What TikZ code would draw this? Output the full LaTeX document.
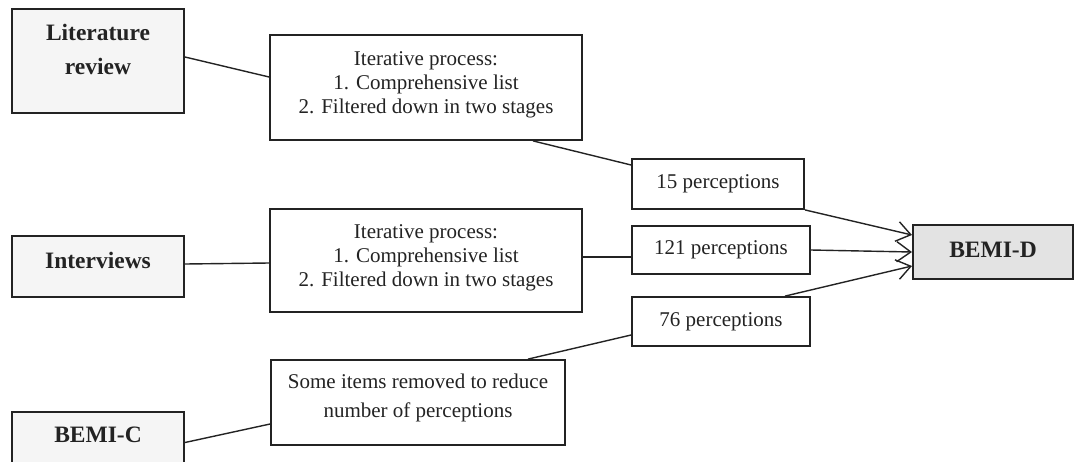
\documentclass[tikz,border=0pt]{standalone}
\usepackage{fontspec}
\setmainfont{Liberation Serif}
\usetikzlibrary{arrows.meta}
\definecolor{boxgray}{RGB}{245,245,245}
\definecolor{targetgray}{RGB}{227,227,227}
\definecolor{linedark}{RGB}{35,35,35}

\begin{document}
\begin{tikzpicture}[x=0.5pt, y=-0.5pt, >={Straight Barb[length=7pt,width=10pt]},
  source/.style={draw=linedark, line width=1pt, fill=boxgray, text=linedark, minimum width=86pt,
    inner sep=0pt, align=center, font=\fontsize{11.75}{17}\selectfont\bfseries},
  stage/.style={draw=linedark, line width=0.9pt, fill=white, text=linedark, inner sep=0pt,
    align=center, font=\fontsize{10.5}{12}\selectfont},
  count/.style={stage, minimum width=89pt},
  link/.style={draw=linedark, line width=0.7pt}]
  \useasboundingbox (0,0) rectangle (1076,461);
  \clip (0,0) rectangle (1076,461);

  % sources and target
  \node[source, minimum height=52pt, text depth=12pt] (lit) at (98,61) {Literature\\review};
  \node[source, minimum height=30.5pt, text depth=6.5pt] (inter) at (98,266.5) {Interviews};
  \node[source, minimum height=30.5pt, text depth=7.5pt] (bemic) at (98,442.5) {BEMI-C};
  \node[source, fill=targetgray, minimum width=80pt, minimum height=27pt, text depth=2pt]
    (bemid) at (993,252) {BEMI-D};

  % processing steps
  \node[stage, minimum width=156pt, minimum height=52.5pt, text depth=4.5pt] (iter1) at (426,87.5)
    {Iterative process:\\1. Comprehensive list\\2. Filtered down in two stages};
  \node[stage, minimum width=156pt, minimum height=51.5pt, text depth=4.5pt] (iter2) at (426,260.5)
    {Iterative process:\\1. Comprehensive list\\2. Filtered down in two stages};
  \node[stage, minimum width=147pt, minimum height=42.5pt, text depth=6.8pt,
    font=\fontsize{10.5}{14.5}\selectfont] (trim) at (418,402.5)
    {Some items removed to reduce\\number of perceptions};

  % counts
  \node[count, minimum width=86pt, minimum height=25pt] (p15) at (718,184) {15 perceptions};
  \node[count, minimum height=24pt] (p121) at (721,250) {121 perceptions};
  \node[count, minimum height=24.5pt] (p76) at (721,321.5) {76 perceptions};

  % plain links
  \draw[link] ([yshift=2pt]lit.east) -- ([yshift=5.25pt]iter1.west);
  \draw[link] ([xshift=53.5pt]iter1.south) -- ([yshift=9.5pt]p15.west);
  \draw[link] ([yshift=1.25pt]inter.east) -- ([yshift=-1.25pt]iter2.west);
  \draw[link] ([yshift=1.75pt]iter2.east) -- ([yshift=-3.5pt]p121.west);
  \draw[link] (bemic.east) -- ([yshift=-10.75pt]trim.west);
  \draw[link] ([xshift=55pt]trim.north) -- ([yshift=-6.75pt]p76.west);

  % arrows into BEMI-D
  \draw[link, ->] (p15.south east) -- ([yshift=8.5pt]bemid.west);
  \draw[link, ->] (p121.east) -- (bemid.west);
  \draw[link, ->] ([xshift=32pt]p76.north) -- ([yshift=-7pt]bemid.west);
\end{tikzpicture}
\end{document}
